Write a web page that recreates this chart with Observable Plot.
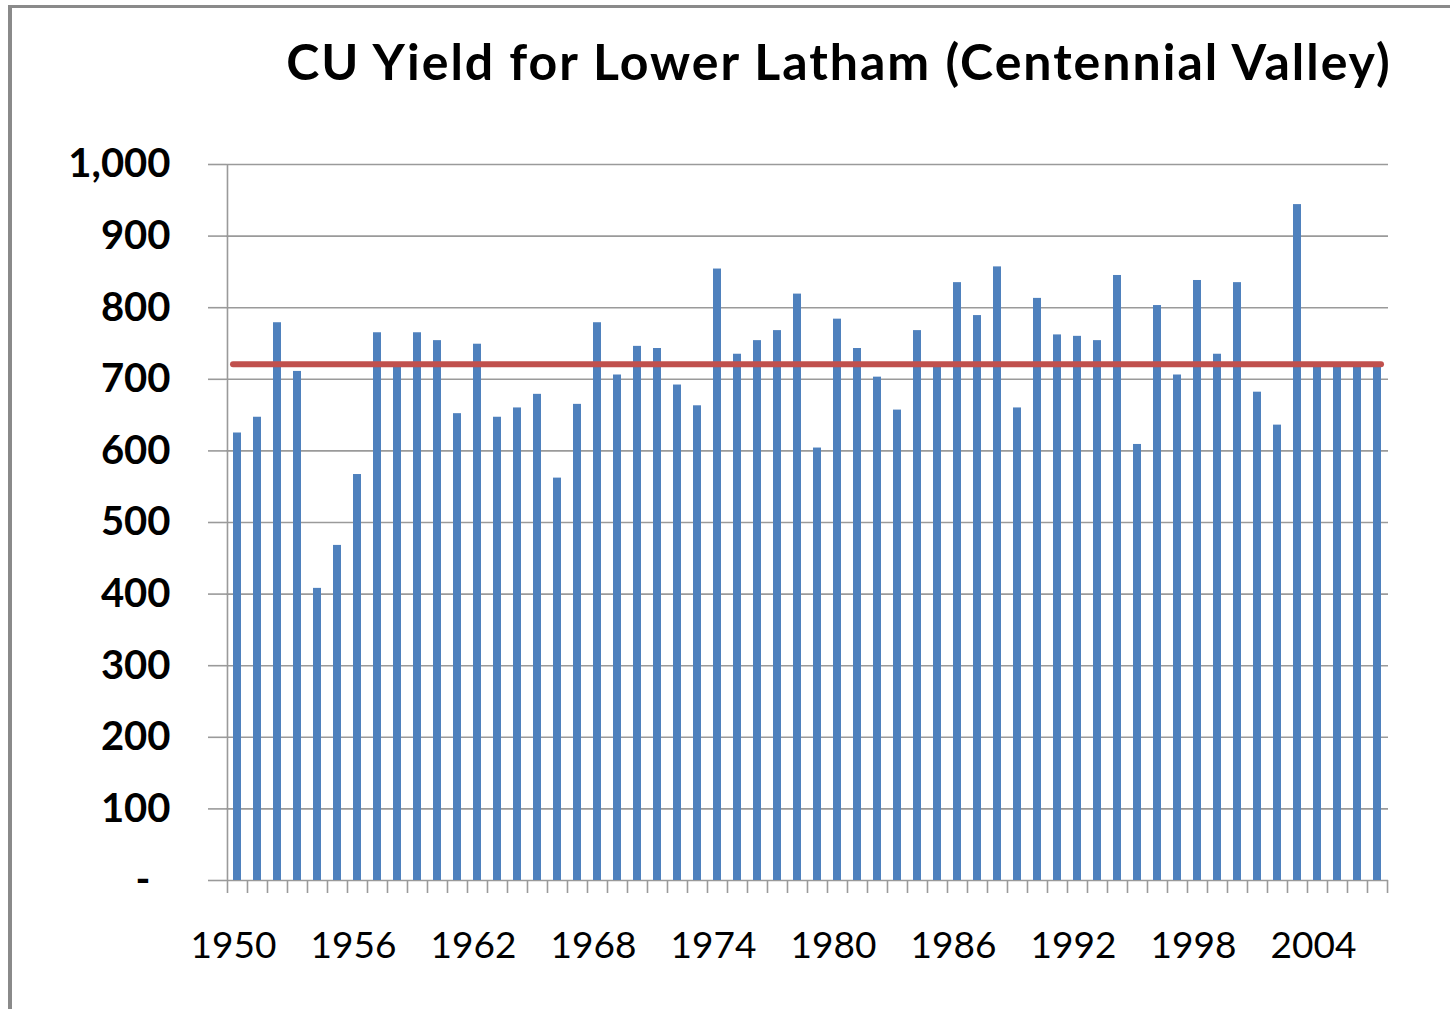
<!DOCTYPE html>
<html>
<head>
<meta charset="utf-8">
<script src="https://cdn.jsdelivr.net/npm/d3@7"></script>
<script src="https://cdn.jsdelivr.net/npm/@observablehq/plot@0.6"></script>
<style>
  html, body { margin: 0; padding: 0; background: #fff; }
  #wrap { position: relative; width: 1450px; height: 1009px; overflow: hidden; background: #fff; }
  #border { position: absolute; left: 8px; top: 5px; width: 1460px; height: 1020px;
            border-top: 3px solid #8a8a8a; border-left: 4px solid #8a8a8a; box-sizing: border-box; }
  #title { position: absolute; left: 0; top: 0; width: 1450px; height: 130px; }
  #title div { position: absolute; left: 839px; top: 36px; transform: translateX(-50%);
               font-family: Lato, "Open Sans", sans-serif; font-weight: bold; font-size: 50px;
               letter-spacing: 2px; white-space: nowrap; color: #000; line-height: 1; }
  #chart { position: absolute; left: 0; top: 130px; }
</style>
</head>
<body>
<div id="wrap">
  <div id="border"></div>
  <div id="title"><div id="titletext">CU Yield for Lower Latham (Centennial Valley)</div></div>
  <div id="chart"></div>
</div>
<script>
const years = [
  1950, 1951, 1952, 1953, 1954, 1955, 1956, 1957, 1958, 1959,
  1960, 1961, 1962, 1963, 1964, 1965, 1966, 1967, 1968, 1969,
  1970, 1971, 1972, 1973, 1974, 1975, 1976, 1977, 1978, 1979,
  1980, 1981, 1982, 1983, 1984, 1985, 1986, 1987, 1988, 1989,
  1990, 1991, 1992, 1993, 1994, 1995, 1996, 1997, 1998, 1999,
  2000, 2001, 2002, 2003, 2004, 2005, 2006, 2007
];
const cuYield = [
  625, 647, 779, 711, 408, 468, 567, 765, 720, 765,
  754, 652, 749, 647, 660, 679, 562, 665, 779, 706,
  746, 743, 692, 663, 854, 735, 754, 768, 819, 604,
  784, 743, 703, 657, 768, 718, 835, 789, 857, 660,
  813, 762, 760, 754, 845, 609, 803, 706, 838, 735,
  835, 682, 636, 944, 722, 722, 722, 722
];
const averageYield = 721;
const yTicks = [0, 100, 200, 300, 400, 500, 600, 700, 800, 900, 1000];
const xLabelYears = [1950, 1956, 1962, 1968, 1974, 1980, 1986, 1992, 1998, 2004];

const data = years.map((year, i) => ({year, value: cuYield[i]}));
const halfStep = (1450 - 226 - 62) / years.length / 2;

const chart = Plot.plot({
  width: 1450,
  height: 879,
  marginTop: 34,
  marginBottom: 129,
  marginLeft: 226,
  marginRight: 62,
  style: {background: "transparent", overflow: "visible"},
  x: {type: "band", domain: years, paddingInner: 0.58, paddingOuter: 0.25, axis: null},
  y: {domain: [0, 1000], axis: null},
  marks: [
    Plot.ruleY(yTicks, {stroke: "#9a9a9a", strokeWidth: 1.6}),
    Plot.axisY({
      ticks: yTicks, tickSize: 18, tickPadding: 38, stroke: "#9a9a9a", strokeWidth: 1.6,
      tickFormat: d => d === 0 ? "-\u2002" : d3.format(",")(d),
      fontSize: 40, fontWeight: "bold", fontFamily: "Lato, sans-serif", fill: "#000",
      label: null
    }),
    Plot.ruleX([years[0]], {dx: -halfStep, stroke: "#9a9a9a", strokeWidth: 1.6}),
    Plot.axisX({
      ticks: years, tickFormat: () => "", tickSize: 13, dx: -halfStep,
      stroke: "#9a9a9a", strokeWidth: 1.6, label: null
    }),
    Plot.axisX({
      ticks: [years[years.length - 1]], tickFormat: () => "", tickSize: 13, dx: halfStep,
      stroke: "#9a9a9a", strokeWidth: 1.6, label: null
    }),
    Plot.axisX({
      ticks: xLabelYears, tickSize: 0, tickPadding: 51, dx: -4, tickFormat: d => String(d),
      fontSize: 37, fontFamily: "Lato, sans-serif", fill: "#000", label: null
    }),
    Plot.barY(data, {x: "year", y: "value", fill: "#4F81BD"}),
    Plot.ruleY([averageYield], {
      x1: years[0], x2: years[years.length - 1],
      stroke: "#C0504D", strokeWidth: 6, strokeLinecap: "round"
    })
  ]
});
document.getElementById("chart").appendChild(chart);
</script>
</body>
</html>
